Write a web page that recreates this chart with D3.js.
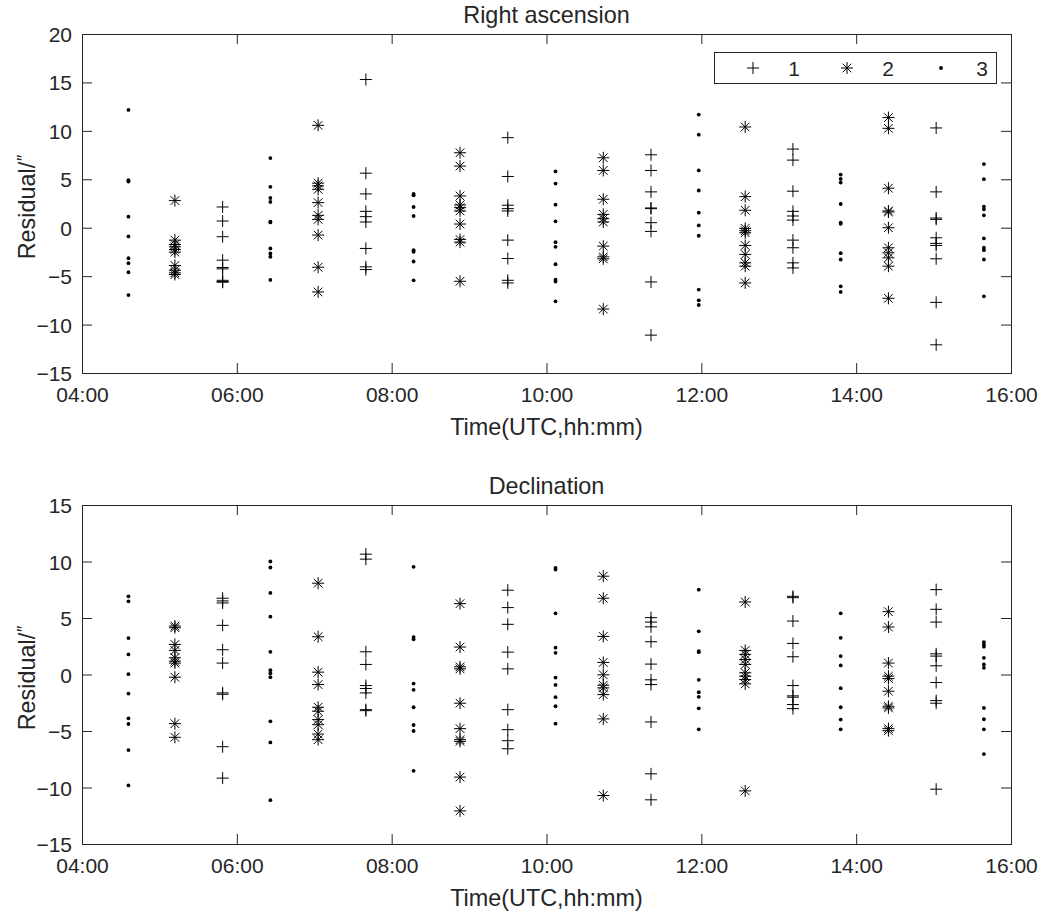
<!DOCTYPE html>
<html>
<head>
<meta charset="utf-8">
<script src="https://cdn.jsdelivr.net/npm/d3@7"></script>
<style>
  body { margin: 0; background: #fff; }
  text { font-family: "Liberation Sans", Arial, Helvetica, sans-serif; fill: #262626; }
</style>
</head>
<body>
<div id="chart"></div>
<script>
// observation times, one column of points per time
const times = ["04:36", "05:12", "05:49", "06:26", "07:03", "07:40", "08:17", "08:53", "09:30", "10:07",
  "10:44", "11:21", "11:58", "12:34", "13:11", "13:48", "14:25", "15:02", "15:39"];
// which series (1, 2 or 3) each column belongs to
const groupSeries = [3, 2, 1, 3, 2, 1, 3, 2, 1, 3, 2, 1, 3, 2, 1, 3, 2, 1, 3];
const legendLabels = ["1", "2", "3"];
const timeTicks = ["04:00", "06:00", "08:00", "10:00", "12:00", "14:00", "16:00"];
const raTicks = [-15, -10, -5, 0, 5, 10, 15, 20];
const decTicks = [-15, -10, -5, 0, 5, 10, 15];

const raValues = [
  [12.16, 4.91, 4.77, 1.14, -0.90, -3.14, -3.66, -4.60, -6.95],
  [2.80, -1.28, -1.73, -1.97, -2.25, -2.52, -3.90, -4.39, -4.66, -4.84],
  [2.14, 0.69, -0.93, -3.35, -4.11, -4.25, -5.43, -5.55, -5.63],
  [7.19, 4.22, 3.07, 2.66, 0.62, 0.55, -2.14, -2.66, -3.00, -5.39],
  [10.57, 4.60, 4.32, 3.97, 2.59, 1.28, 0.86, -0.76, -4.08, -6.63],
  [15.30, 5.63, 3.49, 1.69, 1.14, 0.59, -2.14, -4.04, -4.32],
  [3.49, 3.35, 2.14, 1.21, -2.32, -2.49, -3.49, -5.43],
  [7.74, 6.36, 3.28, 2.35, 2.07, 1.73, 0.38, -1.21, -1.49, -5.53],
  [9.30, 5.29, 2.32, 1.97, 1.73, -1.28, -3.18, -5.43, -5.70],
  [5.81, 4.56, 2.38, 0.66, -1.49, -1.97, -3.77, -5.36, -5.56, -7.60],
  [7.22, 5.91, 2.94, 1.38, 0.93, 0.59, -1.90, -3.01, -3.21, -8.40],
  [7.53, 5.91, 3.70, 2.04, 1.97, 0.52, -0.38, -5.60, -11.09],
  [11.68, 9.61, 5.91, 3.84, 1.55, 0.24, -0.83, -6.39, -7.50, -7.98],
  [10.40, 3.21, 1.80, -0.07, -0.31, -0.52, -1.83, -2.76, -3.63, -3.97, -5.70],
  [8.12, 6.98, 3.77, 1.69, 1.21, 0.79, -1.28, -2.07, -3.63, -4.15],
  [5.49, 5.04, 4.66, 2.45, 0.52, 0.41, -2.63, -3.28, -6.05, -6.63],
  [11.37, 10.26, 4.08, 1.73, 1.62, 0.00, -2.07, -2.59, -3.11, -3.97, -7.29],
  [10.30, 3.70, 1.00, 0.86, -1.04, -1.62, -1.83, -3.21, -7.71, -12.09],
  [6.57, 5.01, 2.18, 1.90, 1.28, -1.11, -2.07, -2.32, -3.28, -7.08]
];

const decValues = [
  [6.92, 6.48, 3.22, 1.78, 0.03, -1.69, -3.88, -4.38, -6.69, -9.82],
  [4.29, 4.14, 2.66, 2.13, 1.48, 1.18, 1.01, -0.24, -4.35, -5.56],
  [6.75, 6.51, 6.33, 4.35, 2.19, 1.01, -1.63, -1.75, -6.39, -9.17],
  [10.00, 9.47, 7.22, 5.12, 2.01, 0.38, 0.12, -0.24, -4.14, -6.01, -11.12],
  [8.08, 3.34, 0.21, -0.89, -2.90, -3.25, -3.99, -4.44, -5.27, -5.77],
  [10.65, 10.21, 2.01, 0.89, -0.98, -1.24, -1.63, -3.11, -3.20],
  [9.53, 3.31, 3.11, -0.80, -1.36, -2.90, -4.47, -5.00, -8.52],
  [6.27, 2.43, 0.68, 0.50, -2.54, -4.79, -5.77, -5.92, -9.08, -12.07],
  [7.46, 5.92, 4.44, 1.98, 0.50, -3.11, -4.88, -5.86, -6.57],
  [9.44, 9.29, 5.41, 2.37, 1.92, -0.27, -0.92, -2.01, -2.81, -4.35],
  [8.70, 6.75, 3.37, 1.07, -0.03, -0.95, -1.18, -1.78, -3.93, -10.71],
  [5.03, 4.64, 4.22, 2.90, 0.92, -0.47, -0.89, -4.20, -8.79, -11.09],
  [7.51, 3.82, 2.07, 1.98, -0.47, -1.57, -1.98, -2.99, -4.85],
  [6.42, 2.13, 1.78, 1.33, 0.89, 0.15, -0.15, -0.44, -0.83, -10.30],
  [6.92, 6.80, 4.73, 2.75, 1.57, -0.98, -1.89, -2.01, -2.66, -3.02],
  [5.41, 3.25, 1.63, 0.80, -1.21, -2.90, -3.99, -4.85],
  [5.56, 4.20, 1.01, -0.15, -0.36, -1.48, -2.81, -2.96, -4.79, -4.97],
  [7.51, 5.77, 4.64, 1.83, 1.63, 0.77, -0.71, -2.31, -2.54, -10.15],
  [2.87, 2.66, 2.46, 1.48, 0.89, 0.59, -2.96, -3.96, -4.85, -7.04]
];

var width = 1040, height = 911;
var left = 82, right = 1011;
var tickFont = 21, labelFont = 23.4;
var axisColor = "#262626";

var parseTime = d3.timeParse("%H:%M");
var x = d3.scaleTime()
  .domain([parseTime(timeTicks[0]), parseTime(timeTicks[timeTicks.length - 1])])
  .range([left, right]);

function plusPath(r) {
  return "M" + (-r) + ",0H" + r + "M0," + (-r) + "V" + r;
}
function starPath(r) {
  var d = r * 0.72;
  return plusPath(r) + "M" + (-d) + "," + (-d) + "L" + d + "," + d + "M" + (-d) + "," + d + "L" + d + "," + (-d);
}

function drawMarker(sel, series) {
  if (series === 1) {
    sel.append("path").attr("d", plusPath(6)).attr("stroke", "#000").attr("stroke-width", 1).attr("fill", "none");
  } else if (series === 2) {
    sel.append("path").attr("d", starPath(6)).attr("stroke", "#000").attr("stroke-width", 1).attr("fill", "none");
  } else {
    sel.append("circle").attr("r", 1.9).attr("fill", "#000");
  }
}

var svg = d3.select("#chart").append("svg")
  .attr("width", width)
  .attr("height", height);

var panels = [
  { title: "Right ascension", values: raValues, ticks: raTicks, top: 34, bottom: 373, legend: true },
  { title: "Declination", values: decValues, ticks: decTicks, top: 505, bottom: 844, legend: false }
];

panels.forEach(function (p) {
  var y = d3.scaleLinear()
    .domain([p.ticks[0], p.ticks[p.ticks.length - 1]])
    .range([p.bottom, p.top]);

  var g = svg.append("g");

  // points
  p.values.forEach(function (vals, i) {
    var t = parseTime(times[i]);
    vals.forEach(function (v) {
      var m = g.append("g").attr("transform", "translate(" + x(t) + "," + y(v) + ")");
      drawMarker(m, groupSeries[i]);
    });
  });

  // axes, ticks pointing inward
  var tickDates = timeTicks.map(parseTime);
  var xb = g.append("g")
    .attr("transform", "translate(0," + p.bottom + ")")
    .attr("color", axisColor)
    .call(d3.axisBottom(x).tickValues(tickDates).tickFormat(d3.timeFormat("%H:%M")).tickSize(-10).tickSizeOuter(0));
  xb.selectAll("text").attr("y", 29).attr("dy", null).style("font-size", tickFont + "px");

  g.append("g")
    .attr("transform", "translate(0," + p.top + ")")
    .attr("color", axisColor)
    .call(d3.axisTop(x).tickValues(tickDates).tickFormat("").tickSize(-10).tickSizeOuter(0));

  var yl = g.append("g")
    .attr("transform", "translate(" + left + ",0)")
    .attr("color", axisColor)
    .call(d3.axisLeft(y).tickValues(p.ticks).tickSize(-10).tickSizeOuter(0).tickPadding(10));
  yl.selectAll("text").attr("dy", "0.36em").style("font-size", tickFont + "px");

  g.append("g")
    .attr("transform", "translate(" + right + ",0)")
    .attr("color", axisColor)
    .call(d3.axisRight(y).tickValues(p.ticks).tickFormat("").tickSize(-10).tickSizeOuter(0));

  g.selectAll(".domain").remove();
  g.selectAll(".tick line").attr("stroke-width", 1);

  g.append("rect")
    .attr("x", left + 0.5)
    .attr("y", p.top + 0.5)
    .attr("width", right - left)
    .attr("height", p.bottom - p.top)
    .attr("fill", "none")
    .attr("stroke", axisColor)
    .attr("stroke-width", 1);

  // title and labels
  g.append("text")
    .attr("x", (left + right) / 2)
    .attr("y", p.top - 11)
    .attr("text-anchor", "middle")
    .style("font-size", labelFont + "px")
    .text(p.title);

  g.append("text")
    .attr("x", (left + right) / 2)
    .attr("y", p.bottom + 62)
    .attr("text-anchor", "middle")
    .style("font-size", labelFont + "px")
    .text("Time(UTC,hh:mm)");

  var lab = g.append("text")
    .attr("transform", "translate(35," + ((p.top + p.bottom) / 2 + 4) + ") rotate(-90)")
    .attr("text-anchor", "middle")
    .style("font-size", labelFont + "px");
  lab.append("tspan").text("Residual/");
  lab.append("tspan").attr("dy", "-0.3em").style("font-size", "0.75em").style("font-style", "italic").text("\u2033");

  if (p.legend) {
    var lx = 714, ly = 52, lw = 282, lh = 31;
    var lg = g.append("g");
    lg.append("rect")
      .attr("x", lx + 0.5).attr("y", ly + 0.5)
      .attr("width", lw).attr("height", lh)
      .attr("fill", "#fff").attr("stroke", axisColor).attr("stroke-width", 1);
    legendLabels.forEach(function (name, i) {
      var cx = lx + 39 + i * 94;
      var cy = ly + lh / 2 + 0.5;
      drawMarker(lg.append("g").attr("transform", "translate(" + cx + "," + cy + ")"), i + 1);
      lg.append("text")
        .attr("x", cx + 41)
        .attr("y", cy)
        .attr("dy", "0.36em")
        .attr("text-anchor", "middle")
        .style("font-size", tickFont + "px")
        .text(name);
    });
  }
});
</script>
</body>
</html>
